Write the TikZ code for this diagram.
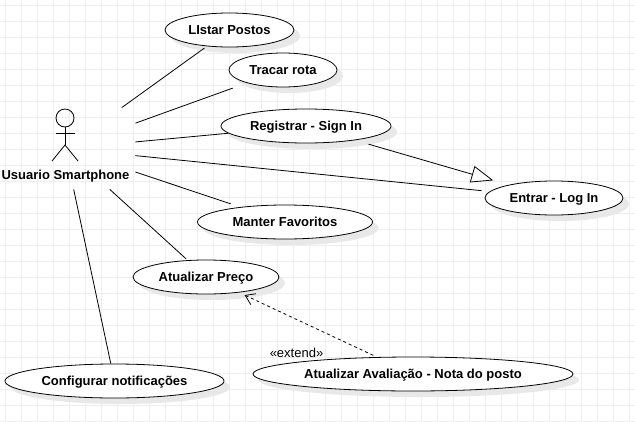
\documentclass[tikz,border=0pt]{standalone}
\usepackage{fontspec}
\setmainfont{Liberation Sans}
\usetikzlibrary{arrows.meta,shapes.geometric,shadows}
\definecolor{gridcol}{HTML}{EEEEEE}
\definecolor{shadowcol}{HTML}{E8E8E8}
\begin{document}
\begin{tikzpicture}[x=1pt, y=-1pt, line width=0.8pt,
  usecase/.style = {draw, ellipse, fill=white, inner sep=0pt, text height=10.5pt, text depth=2pt, font=\fontsize{13}{15}\selectfont\bfseries,
    general shadow={fill=shadowcol, shadow xshift=6pt, shadow yshift=-6pt}},
  label/.style = {inner sep=0pt}]
  \useasboundingbox (0,0) rectangle (635,421);
  \fill[white] (0,0) rectangle (635,421);
  % grid
  \foreach \k in {0,...,39} \draw[gridcol, line width=1pt] ({5.5+16*\k},0) -- ({5.5+16*\k},421);
  \foreach \k in {0,...,26} \draw[gridcol, line width=1pt] (0,{5.5+16*\k}) -- (635,{5.5+16*\k});
  % use cases
  \node[usecase, minimum width=129pt, minimum height=34pt] (listar) at (229.5,30) {LIstar Postos};
  \node[usecase, minimum width=108pt, minimum height=34pt] (tracar) at (283,70) {Tracar rota};
  \node[usecase, minimum width=170pt, minimum height=34pt] (registrar) at (306,126) {Registrar - Sign In};
  \node[usecase, minimum width=138pt, minimum height=34pt] (entrar) at (554,198) {Entrar - Log In};
  \node[usecase, minimum width=175pt, minimum height=34pt] (manter) at (285,222) {Manter Favoritos};
  \node[usecase, minimum width=146pt, minimum height=34pt] (preco) at (206,277) {Atualizar Preço};
  \node[usecase, minimum width=320pt, minimum height=34pt] (avaliacao) at (413,374) {Atualizar Avaliação - Nota do posto};
  \node[usecase, minimum width=219pt, minimum height=34pt] (notif) at (114.5,381) {Configurar notificações};
  % actor
  \node[draw, circle, minimum size=18pt, inner sep=0pt] (head) at (65,118) {};
  \coordinate (hip) at (65,145);
  \coordinate (armL) at (56,133.5);
  \coordinate (armR) at (75,133.5);
  \coordinate (footL) at (52,161);
  \coordinate (footR) at (78,161);
  \draw (head) -- (hip);
  \draw (armL) -- (armR);
  \draw (footL) -- (hip) -- (footR);
  \node[font=\fontsize{13}{15}\selectfont\bfseries, inner sep=0pt] (usuario) at (65.5,176) {Usuario Smartphone};
  \node[minimum width=140pt, minimum height=81pt, inner sep=0pt] (actor) at (65,148.5) {};
  % associations
  \draw[shorten >=3pt] (actor) -- (listar);
  \draw[shorten >=15pt] (actor) -- (tracar);
  \draw (actor) -- (registrar);
  \draw[shorten >=8pt] (actor) -- (entrar);
  \draw[shorten >=10pt] (actor) -- (manter);
  \draw[shorten >=2pt] (actor) -- (preco);
  \draw (actor) -- (notif);
  % generalization
  \draw[-{Triangle[open,length=22pt,width=17pt,fill=white]}, shorten <=14pt, shorten >=16pt] (registrar) -- (entrar);
  % extend
  \draw[-{Straight Barb[length=9pt,width=12pt]}, dashed, dash pattern=on 3pt off 3pt, shorten <=4pt, shorten >=6pt] (avaliacao) -- (preco);
  \node[label, font=\fontsize{13}{15}\selectfont] (extend) at (296.5,353) {«extend»};
\end{tikzpicture}
\end{document}
